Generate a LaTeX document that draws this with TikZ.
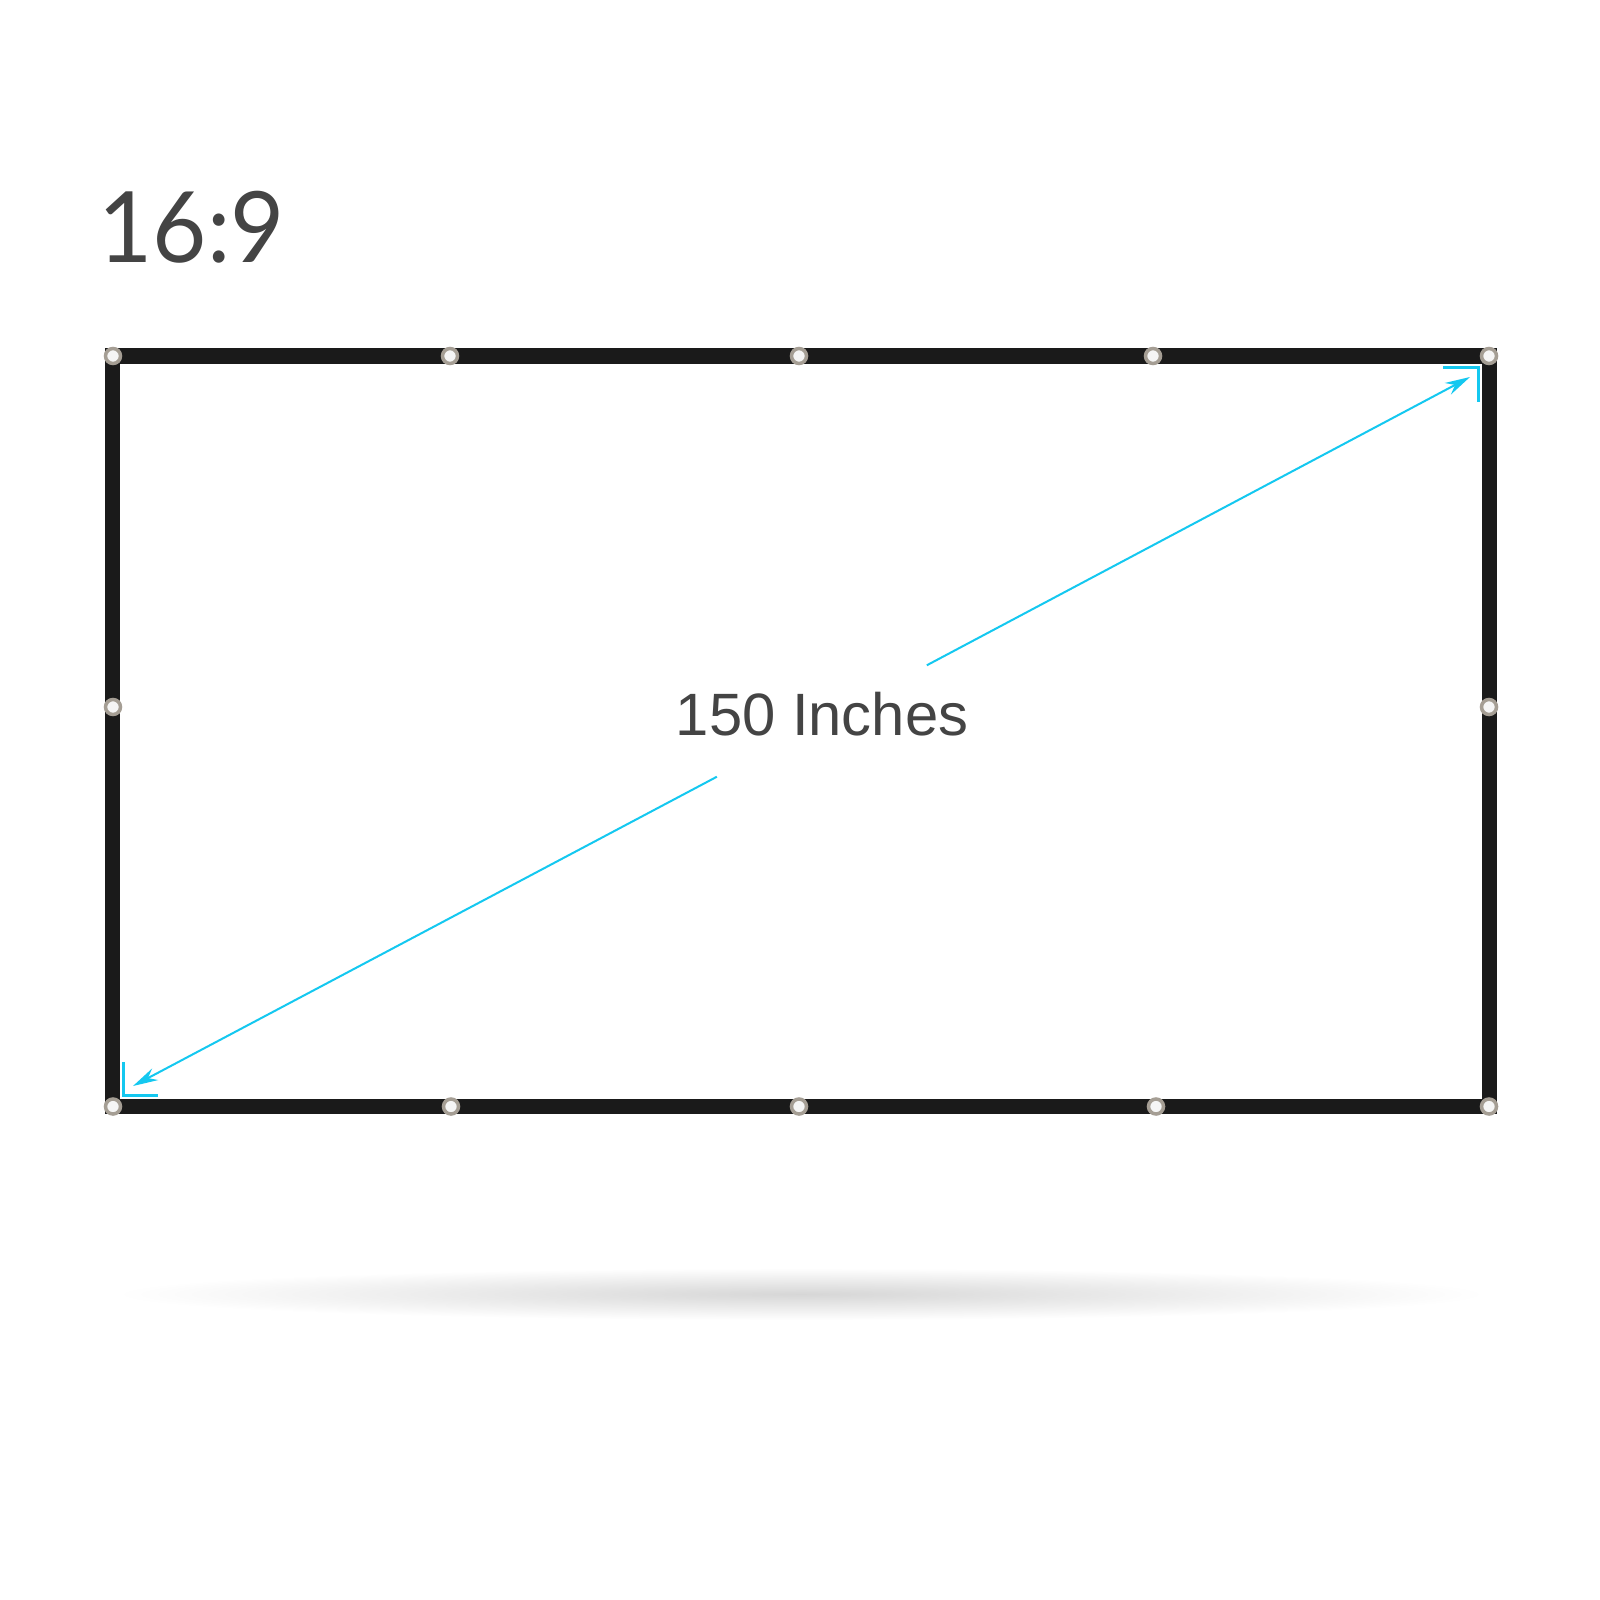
\documentclass[tikz,border=0pt]{standalone}
\usepackage{fontspec}
\setmainfont{Liberation Sans}
\newfontfamily\ratiofont{Lato}
\usetikzlibrary{arrows.meta}
\definecolor{cyanline}{RGB}{20,200,240}
\definecolor{frameblack}{RGB}{26,26,26}
\definecolor{textgray}{RGB}{68,68,68}
\definecolor{ringgray}{RGB}{165,158,148}

\begin{document}
\begin{tikzpicture}[x=0.01cm, y=-0.01cm,
    grommet/.style={circle, fill=white!92!gray, draw=ringgray, line width=0.035cm, minimum size=0.15cm, inner sep=0pt},
    dimline/.style={cyanline, line width=0.02cm},
    cornermark/.style={cyanline, line width=0.03cm}]
    % Parameters
        \def\l{112.5} % frame left
        \def\r{1489}  % frame right
        \def\t{356}   % frame top
        \def\b{1106.5} % frame bottom

        % Page
        \useasboundingbox[fill=white] (0,0) rectangle (1600,1600);

        % Shadow under the screen
        \shade[inner color=black!16, outer color=white] (801,1294) ellipse [x radius=6.85cm, y radius=0.26cm];

        % Ratio
        \node[anchor=base west, inner sep=0pt, textgray, font=\ratiofont\fontsize{28}{30}\selectfont] (ratio) at (98,262) {\scalebox{0.95}[1]{16:9}};

        % Screen frame
        \draw[frameblack, line width=0.15cm] (\l,\t) rectangle (\r,\b);

        % Grommets
        \foreach \x [count=\i] in {113,450,799,1153,1489}
            \node[grommet] (gt\i) at (\x,\t) {};
        \foreach \x [count=\i] in {113,451,799,1156,1489}
            \node[grommet] (gb\i) at (\x,\b) {};
        \node[grommet] (gl) at (113,707) {};
        \node[grommet] (gr) at (1489,707) {};

        % Corner marks
        \draw[cornermark] (1443,367) -- (1478,367) -- (1478,402);
        \draw[cornermark] (123,1062) -- (123,1095) -- (158,1095);

        % Diagonal
        \coordinate (ll) at (133,1086);
        \coordinate (ur) at (1470,377);
        \node[textgray, minimum height=1.1cm, minimum width=3.2cm, text depth=0.14cm, font=\fontsize{17}{20}\selectfont] (diag) at (822,721) {150 Inches};
        \draw[dimline, -{Stealth[length=0.25cm, width=0.13cm]}] (diag) -- (ur);
        \draw[dimline, -{Stealth[length=0.25cm, width=0.13cm]}] (diag) -- (ll);
    \end{tikzpicture}
\end{document}
